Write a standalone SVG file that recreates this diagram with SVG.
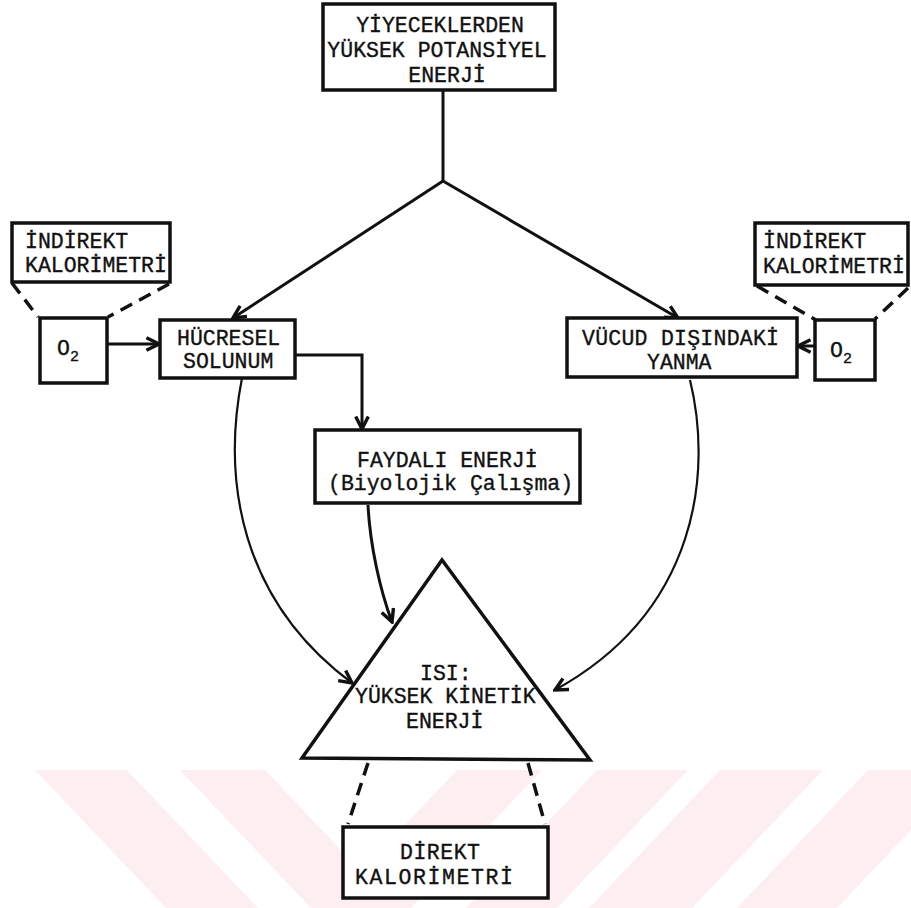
<svg xmlns="http://www.w3.org/2000/svg" width="911" height="908" viewBox="0 0 911 908">
<defs>
<style>
.wm{fill:#fdeef1;stroke:none}
.box{fill:#fff;stroke:#111;stroke-width:3.5}
.t{font-family:"Liberation Mono","DejaVu Sans Mono",monospace;font-size:21.5px;fill:#111;stroke:#111;stroke-width:0.35}
.c{text-anchor:middle}
.sub{font-size:15px}
.ln{fill:none;stroke:#111;stroke-width:3}
.cv{fill:none;stroke:#111;stroke-width:2.2}
.dash{fill:none;stroke:#111;stroke-width:3.5;stroke-dasharray:13 8}
</style>
<marker id="ah" viewBox="0 0 14 14" refX="12" refY="7" markerWidth="16" markerHeight="16" markerUnits="userSpaceOnUse" orient="auto">
<path d="M1,1.5 L12,7 L1,12.5" fill="none" stroke="#111" stroke-width="3" stroke-linejoin="miter"/>
</marker>
</defs>
<rect width="911" height="908" fill="#fff"/>
<g id="watermark">
<polygon class="wm" points="35,770 127,770 258,908 166,908"/>
<polygon class="wm" points="180,770 265,770 396,908 311,908"/>
<polygon class="wm" points="457,770 542,770 411,908 326,908"/>
<polygon class="wm" points="597,770 688,770 557,908 466,908"/>
<polygon class="wm" points="720,770 823,770 692,908 589,908"/>
<polygon class="wm" points="868,770 968,770 837,908 737,908"/>
</g>
<g id="connectors">
<line class="ln" x1="443" y1="90" x2="443" y2="181"/>
<line class="ln" x1="443" y1="181" x2="233" y2="318" marker-end="url(#ah)"/>
<line class="ln" x1="443" y1="181" x2="678" y2="318" marker-end="url(#ah)"/>
<line class="ln" x1="107" y1="344" x2="159" y2="344" marker-end="url(#ah)"/>
<line class="ln" x1="815" y1="346" x2="798" y2="346" marker-end="url(#ah)"/>
<polyline class="ln" points="295,355 362,355 362,429" marker-end="url(#ah)"/>
<path class="ln" d="M368,505 C370,545 380,590 392,622" marker-end="url(#ah)"/>
<path class="cv" d="M242,378 C222,480 240,600 352,683" marker-end="url(#ah)"/>
<path class="cv" d="M690,380 C712,470 700,610 555,690" marker-end="url(#ah)"/>
<line class="dash" x1="12" y1="283" x2="38" y2="317"/>
<line class="dash" x1="169" y1="284" x2="108" y2="317"/>
<line class="dash" x1="757" y1="286" x2="816" y2="320"/>
<line class="dash" x1="908" y1="288" x2="875" y2="319"/>
<line class="dash" x1="368" y1="763" x2="348" y2="824"/>
<line class="dash" x1="528" y1="763" x2="545" y2="824"/>
</g>
<g id="n-yiyecek">
<rect class="box" x="323" y="4" width="232" height="86"/>
<text class="t c" x="440" y="32">YİYECEKLERDEN</text>
<text class="t c" x="437" y="57">YÜKSEK POTANSİYEL</text>
<text class="t c" x="447" y="82">ENERJİ</text>
</g>
<g id="n-indirekt-l">
<rect class="box" x="12" y="223" width="158" height="59"/>
<text class="t" x="25" y="248">İNDİREKT</text>
<text class="t" x="25" y="272">KALORİMETRİ</text>
</g>
<g id="n-indirekt-r">
<rect class="box" x="755" y="223" width="153" height="62"/>
<text class="t" x="763" y="248">İNDİREKT</text>
<text class="t" x="763" y="273">KALORİMETRİ</text>
</g>
<g id="n-o2-l">
<rect class="box" x="40" y="318" width="67" height="65"/>
<text class="t" x="57" y="355">O<tspan class="sub" dy="6">2</tspan></text>
</g>
<g id="n-o2-r">
<rect class="box" x="815" y="320" width="60" height="60"/>
<text class="t" x="830" y="357">O<tspan class="sub" dy="6">2</tspan></text>
</g>
<g id="n-hucresel">
<rect class="box" x="160" y="320" width="135" height="58"/>
<text class="t" x="177" y="345">HÜCRESEL</text>
<text class="t" x="183" y="368">SOLUNUM</text>
</g>
<g id="n-vucud">
<rect class="box" x="567" y="318" width="230" height="59"/>
<text class="t" x="582" y="345" textLength="197">VÜCUD DIŞINDAKİ</text>
<text class="t" x="647" y="369">YANMA</text>
</g>
<g id="n-faydali">
<rect class="box" x="315" y="430" width="265" height="73"/>
<text class="t" x="357" y="467">FAYDALI ENERJİ</text>
<text class="t" x="328" y="490">(Biyolojik Çalışma)</text>
</g>
<g id="n-isi">
<polygon class="box" points="302,758 442,560 590,760"/>
<text class="t" x="420" y="680">ISI:</text>
<text class="t" x="355" y="703">YÜKSEK KİNETİK</text>
<text class="t" x="406" y="728">ENERJİ</text>
</g>
<g id="n-direkt">
<rect class="box" x="343" y="827" width="205" height="71"/>
<text class="t" x="400" y="859" textLength="80">DİREKT</text>
<text class="t" x="355" y="884" textLength="158">KALORİMETRİ</text>
</g>
</svg>
